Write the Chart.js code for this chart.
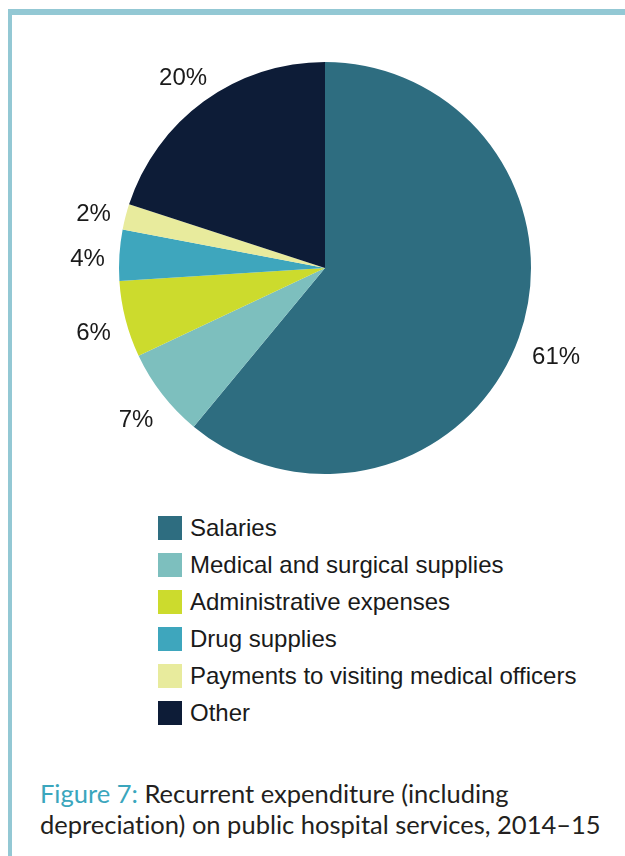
<!DOCTYPE html>
<html>
<head>
<meta charset="utf-8">
<script src="https://cdn.jsdelivr.net/npm/chart.js@4/dist/chart.umd.min.js"></script>
<style>
    body { margin: 0; background: #fff; }
    #page { position: relative; width: 625px; height: 856px; overflow: hidden; }
    #frameTop { position: absolute; left: 8px; top: 9px; width: 617px; height: 6px; background: #93c8d4; }
    #frameLeft { position: absolute; left: 8px; top: 9px; width: 4px; height: 847px; background: #93c8d4; }
    #pieWrap { position: absolute; left: 0; top: 0; width: 625px; height: 500px; }
    #legend { position: absolute; left: 158px; top: 509px; font-family: "Liberation Sans", Arial, sans-serif; font-size: 24px; color: #1a1a1a; }
    .legendRow { display: flex; align-items: center; height: 37px; }
    .legendBox { width: 24px; height: 24px; margin-right: 8px; }
    #caption { position: absolute; left: 40px; top: 778px; font-family: Lato, "Open Sans", sans-serif; font-size: 25.5px; line-height: 31px; color: #231f20; font-variant-ligatures: none; }
    #caption span { color: #3aa6bd; }
</style>
</head>
<body>
<div id="page">
    <div id="frameTop"></div>
    <div id="frameLeft"></div>
    <div id="pieWrap"><canvas id="expenditureChart" width="625" height="500"></canvas></div>
    <div id="legend"></div>
    <div id="caption"><span>Figure 7:</span> Recurrent expenditure (including<br>depreciation) on public hospital services, 2014–15</div>
</div>
<script>
const categories = ["Salaries", "Medical and surgical supplies", "Administrative expenses", "Drug supplies", "Payments to visiting medical officers", "Other"];
const shares = [61, 7, 6, 4, 2, 20];
const sliceColours = ["#2e6d80", "#7dbfbe", "#ccdb2d", "#3ea6bd", "#e8eb9d", "#0d1c37"];

// Prozentwerte aussen neben die Segmente schreiben.
const outsideLabels = {
    id: "outsideLabels",
    afterDatasetsDraw(chart) {
        const ctx = chart.ctx;
        const arcs = chart.getDatasetMeta(0).data;
        ctx.save();
        ctx.font = "24px 'Liberation Sans', Arial, sans-serif";
        ctx.fillStyle = "#1a1a1a";
        ctx.textAlign = "center";
        ctx.textBaseline = "middle";
        arcs.forEach((arc, i) => {
            const text = shares[i] + "%";
            const mid = (arc.startAngle + arc.endAngle) / 2;
            const halfW = ctx.measureText(text).width / 2;
            const halfH = 9;
            const dist = arc.outerRadius + 14 + Math.abs(Math.cos(mid)) * halfW + Math.abs(Math.sin(mid)) * halfH;
            // etwas tiefer setzen
            ctx.fillText(text, arc.x + Math.cos(mid) * dist, arc.y + Math.sin(mid) * dist + 6);
        });
        ctx.restore();
    }
};

const ctx = document.getElementById("expenditureChart");
const expenditureChart = new Chart(ctx, {
    type: "pie",
    data: {
        labels: categories,
        datasets: [{
            data: shares,
            backgroundColor: sliceColours,
            borderWidth: 0,
        }],
    },
    options: {
        responsive: false,
        animation: false,
        layout: {
            padding: { left: 119, right: 94, top: 62, bottom: 26 }
        },
        plugins: {
            legend: { display: false },
            tooltip: { enabled: false },
        },
    },
    plugins: [outsideLabels],
});

// Legende als HTML unter dem Diagramm.
const legendDiv = document.getElementById("legend");
categories.forEach((name, i) => {
    const row = document.createElement("div");
    row.className = "legendRow";
    const box = document.createElement("div");
    box.className = "legendBox";
    box.style.background = sliceColours[i];
    const label = document.createElement("div");
    label.textContent = name;
    row.appendChild(box);
    row.appendChild(label);
    legendDiv.appendChild(row);
});
</script>
</body>
</html>
